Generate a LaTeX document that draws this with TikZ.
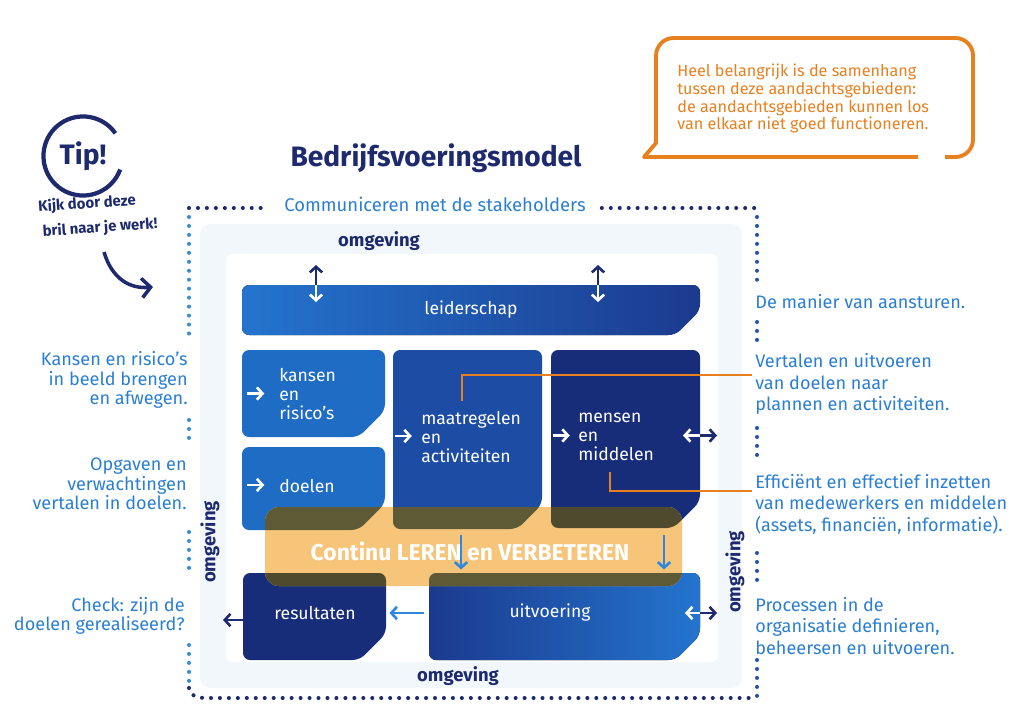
\documentclass[tikz,border=0pt]{standalone}
\usepackage{fontspec}
\setmainfont{Fira Sans}
\usetikzlibrary{arrows.meta,fit}

\definecolor{bvnavy}{HTML}{1E2A6E}
\definecolor{bvtext}{HTML}{2B7FD2}
\definecolor{bvorange}{HTML}{E8801F}
\definecolor{bvband}{HTML}{F6C57A}
\definecolor{bvolive}{HTML}{5E5A36}
\definecolor{bvoliveb}{HTML}{4F4A2E}
\definecolor{bvring}{HTML}{F2F7FC}
\definecolor{boxlight}{HTML}{1F6CC4}
\definecolor{boxmid}{HTML}{1C4CA3}
\definecolor{boxdark}{HTML}{182D7A}
\definecolor{boxleft}{HTML}{2474CE}
\definecolor{boxright}{HTML}{1B3A8E}
\definecolor{arrowblue}{HTML}{2F88DB}
\definecolor{dotblue}{HTML}{3A8BDA}
\definecolor{dotmid}{HTML}{2455A6}

\tikzset{
  area/.style={inner sep=0pt, outer sep=0pt},
  boxtxt/.style={text=white, font=\fontsize{10}{11}\selectfont, align=left, inner sep=0pt},
  lbl/.style={text=bvtext, inner sep=0pt},
  lbll/.style={lbl, align=right, font=\fontsize{10.3}{11.2}\selectfont},
  lblr/.style={lbl, align=left, font=\fontsize{10.3}{12.2}\selectfont},
  omg/.style={text=bvnavy, font=\bfseries\fontsize{10.5}{12}\selectfont, inner sep=0pt},
  brtxt/.style={text=bvnavy, font=\bfseries\fontsize{8.5}{10}\selectfont, rotate=4, inner sep=0pt},
  dots/.style={line width=2.3pt, line cap=round, dash pattern=on 0pt off 5.1pt},
  warrow/.style={white, line width=1.5pt, -{Straight Barb[length=3.2pt,width=7pt]}},
  narrow/.style={bvnavy, line width=1.5pt, -{Straight Barb[length=3.2pt,width=7pt]}},
  barrow/.style={arrowblue, line width=1.5pt, -{Straight Barb[length=3.2pt,width=7pt]}},
  orline/.style={bvorange, line width=1.5pt},
}

% box with cut bottom-right corner
\newcommand{\bvshape}[3]{%
  \fill[rounded corners=4pt, #3] (#1.north west) -- (#1.north east)
    -- ([yshift=#2]#1.south east) -- ([xshift=-#2]#1.south east)
    -- (#1.south west) -- cycle;}

\begin{document}
\begin{tikzpicture}[x=0.02cm,y=-0.02cm]
\useasboundingbox[fill=white] (0,0) rectangle (1013,703);

% omgeving ring
\fill[bvring, rounded corners=6pt] (200,224) rectangle (742,688);
\fill[white, rounded corners=4pt] (226,254) rectangle (718,662);

% tip
\coordinate (tipc) at (83,156);
\draw[bvnavy, line width=2.4pt] (tipc) ++(35:22.5pt) arc[start angle=35, end angle=340, radius=22.5pt];
\node[text=bvnavy, font=\bfseries\fontsize{16}{18}\selectfont] at (tipc) (tip) {Tip!};
\node[brtxt] at (87,204) (bril1) {Kijk door deze};
\node[brtxt] at (100,228) (bril2) {bril naar je werk!};
\coordinate (ka) at (104,252);
\coordinate (kb) at (153,287);
\draw[bvnavy, line width=2pt, -{Straight Barb[length=5pt,width=11pt]}] (ka) .. controls (112,279) and (130,289) .. (kb);

% speech bubble
\draw[bvorange, line width=2.2pt, line join=round] (918,157) -- (644,157) -- (656,143) [rounded corners=10pt] -- (656,38) -- (973,38) -- (973,157) -- (945,157);
\node[text=bvorange, font=\fontsize{9.2}{10}\selectfont, align=left, anchor=north west, inner sep=0pt] at (677,64) (note) {Heel belangrijk is de samenhang\\tussen deze aandachtsgebieden:\\de aandachtsgebieden kunnen los\\van elkaar niet goed functioneren.};

% title
\node[text=bvnavy, font=\bfseries\fontsize{16}{19}\selectfont] at (436,158) (title) {Bedrijfsvoeringsmodel};

% boxes
\node[area, fit={(242,285) (700,335)}] (leider) {};
\node[area, fit={(242,350) (385,437)}] (kansen) {};
\node[area, fit={(242,447) (385,530)}] (doelen) {};
\node[area, fit={(393,350) (542,529)}] (maatr) {};
\node[area, fit={(551,350) (700,528)}] (mensen) {};
\node[area, fit={(243,573) (386,660)}] (result) {};
\node[area, fit={(429,573) (700,660)}] (uitv) {};
\node[area, fit={(265,507) (682,586)}] (band) {};

\bvshape{leider}{14pt}{left color=boxleft, right color=boxright}
\bvshape{kansen}{15pt}{boxlight}
\bvshape{doelen}{15pt}{boxlight}
\bvshape{maatr}{14pt}{boxmid}
\bvshape{mensen}{15pt}{boxdark}
\bvshape{result}{15pt}{boxdark}
\bvshape{uitv}{14pt}{left color=boxright, right color=boxleft}

% leren band
\fill[bvband, rounded corners=8pt] (band.north west) rectangle (band.south east);
\begin{scope}
  \clip[rounded corners=8pt] (band.north west) rectangle (band.south east);
  \bvshape{doelen}{15pt}{bvolive}
  \bvshape{maatr}{14pt}{bvolive}
  \bvshape{mensen}{15pt}{bvoliveb}
  \bvshape{result}{15pt}{bvoliveb}
  \bvshape{uitv}{14pt}{bvolive}
\end{scope}

% box texts
\node[boxtxt] at (leider) (leidertxt) {leiderschap};
\node[boxtxt, anchor=west] at (279,394) (kansentxt) {kansen\\en\\risico's};
\node[boxtxt, anchor=west] at (279,486) (doelentxt) {doelen};
\node[boxtxt, anchor=west] at (421,437) (maatrtxt) {maatregelen\\en\\activiteiten};
\node[boxtxt, anchor=west] at (578,437) (mensentxt) {mensen\\en\\middelen};
\node[boxtxt] at (315,613) (resulttxt) {resultaten};
\node[boxtxt] at (550,613) (uitvtxt) {uitvoering};
\node[text=white, font=\bfseries\fontsize{13}{15}\selectfont] at (470,551) (bandtxt) {Continu LEREN en VERBETEREN};

% arrows
\draw[warrow] ([xshift=3pt]kansen.west) -- ++(17,0);
\draw[warrow] ([xshift=3pt,yshift=2pt]doelen.west) -- ++(17,0);
\draw[warrow] ([xshift=1pt,yshift=2pt]maatr.west) -- ++(17,0);
\draw[warrow] ([xshift=1pt,yshift=2pt]mensen.west) -- ++(17,0);
\draw[warrow] ([yshift=2pt]mensen.east) -- ++(-17,0);
\draw[narrow] ([yshift=2pt]mensen.east) -- ++(17,0);
\draw[warrow] ([yshift=2pt]uitv.east) -- ++(-15,0);
\draw[narrow] ([yshift=2pt]uitv.east) -- ++(17,0);
\draw[narrow] ([yshift=-2pt]result.west) -- ++(-20,0);
\draw[barrow, shorten <=3pt, shorten >=2pt] ([yshift=2pt]uitv.west) -- ([yshift=2pt]result.east);

\coordinate (ua) at (316,265);
\coordinate (ub) at (598,265);
\draw[narrow] (ua |- leider.north) -- (ua);
\draw[warrow] (ua |- leider.north) -- ++(0,17);
\draw[narrow] (ub |- leider.north) -- (ub);
\draw[warrow] (ub |- leider.north) -- ++(0,17);

\coordinate (da) at (461,535);
\coordinate (db) at (664,535);
\draw[barrow] (da) -- ([yshift=2pt]da |- uitv.north);
\draw[barrow] (db) -- ([yshift=2pt]db |- uitv.north);

% orange links
\coordinate (oa) at (462,401);
\coordinate (ob) at (752,375);
\draw[orline] (oa) |- (ob);
\coordinate (oc) at (610,472);
\coordinate (od) at (752,491);
\draw[orline] (oc) |- (od);

% omgeving
\node[omg] at (379,241) (omgT) {omgeving};
\node[omg] at (458,676) (omgB) {omgeving};
\node[omg, rotate=90] at (210,542) (omgL) {omgeving};
\node[omg, rotate=90] at (735,572) (omgR) {omgeving};

% side labels
\node[lblr, anchor=west] at (755,302) (manier) {De manier van aansturen.};
\node[lblr, anchor=west] at (755,384) (vertalen) {Vertalen en uitvoeren\\van doelen naar\\plannen en activiteiten.};
\node[lblr, anchor=west] at (755,504) (effic) {Efficiënt en effectief inzetten\\van medewerkers en middelen\\(assets, financiën, informatie).};
\node[lblr, anchor=west] at (755,626) (proces) {Processen in de\\organisatie definieren,\\beheersen en uitvoeren.};

\node[lbll, anchor=east] at (188,380) (kansenl) {Kansen en risico's\\in beeld brengen\\en afwegen.};
\node[lbll, anchor=east] at (187,484) (opgaven) {Opgaven en\\verwachtingen\\vertalen in doelen.};
\node[lbll, anchor=east] at (185,616) (check) {Check: zijn de\\doelen gerealiseerd?};

% dotted frame
\node[text=bvtext, font=\fontsize{10.5}{12}\selectfont, inner xsep=9pt, inner ysep=0pt] at (435,204) (comm) {Communiceren met de stakeholders};
\coordinate (ftl) at (189,208);
\coordinate (ftr) at (757,208);
\draw[dots, bvnavy] (ftl) -- (comm.west |- ftl);
\draw[dots, bvnavy] (comm.east |- ftr) -- (ftr);
\foreach \a/\b in {217/288, 322/345, 428/456, 553/582, 660/698}
  \draw[dots, dotmid] (757,\a) -- (757,\b);
\foreach \a/\b in {217/335, 420/441, 532/576, 645/683}
  \draw[dots, dotblue] (189,\a) -- (189,\b);
\draw[dots, bvnavy] (189,688) to[out=-90,in=180] (206,698) -- (757,698);
\end{tikzpicture}
\end{document}
